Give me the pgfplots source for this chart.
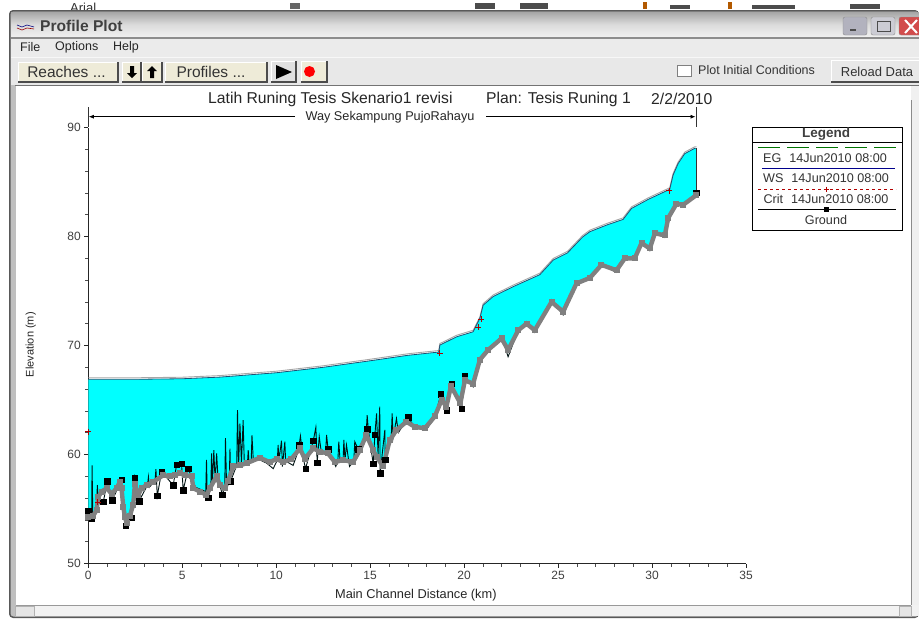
\documentclass[border=0pt]{standalone}
\usepackage{pgfplots}
\usepackage{pgfplotstable}
\pgfplotsset{compat=1.18}
\usetikzlibrary{arrows.meta}
\usepackage{fontspec}
\setmainfont{Liberation Sans}
\definecolor{watercyan}{RGB}{0,255,255}
\definecolor{wsline}{RGB}{30,80,115}
\definecolor{btnbeige}{RGB}{238,235,216}

% water surface
\pgfplotstableread{
x z
0 66.9
2.5 66.9
5 66.95
7 67.1
10 67.5
12.5 68
15 68.6
17 69.1
18.65 69.4
18.71 70.04
19.6 70.8
20.48 71.26
20.84 72.5
21.01 73.7
21.55 74.5
22.61 75.4
24.03 76.5
24.74 77.84
25.5 78.5
26.3 79.95
26.69 80.44
27.58 81.05
28.46 81.57
28.91 82.58
29.79 83.4
30.94 84.33
31.12 85.64
31.39 86.7
31.74 87.6
32.27 88.09
32.36 88.1
}\wsdata

% thick grey line along the ground
\pgfplotstableread{
x z
0 54.3
0.27 54.4
0.44 54.9
0.53 56.1
0.71 56.6
0.98 56.9
1.24 56.4
1.51 56.9
1.68 57.5
1.77 56.9
1.86 55.2
1.95 54.3
2.04 53.7
2.22 54.4
2.39 55.4
2.48 57.3
2.66 56.3
2.84 56.9
3.1 57.2
3.46 57.5
3.99 58.1
4.34 58
4.61 58.1
4.88 58.3
5.14 58.1
5.5 58
5.59 56.9
5.94 56.6
6.29 56.3
6.47 56.9
6.83 58
7 57.2
7.27 56.9
7.45 57.6
7.71 58.9
8.07 59
8.42 59.2
9.13 59.7
9.66 59.3
10.02 59.6
10.37 59.3
10.81 59.6
11.26 60.56
11.52 59.6
11.97 60.56
12.32 60.26
12.76 60.1
13.12 59.3
13.56 59.5
14.09 59.3
14.45 60.4
14.8 61.8
15.16 60.4
15.34 59.8
15.69 58.9
16.04 61.3
16.4 62.25
16.93 63
17.37 62.55
17.91 62.4
18.44 63.5
18.8 65
19.06 64.4
19.3 66.3
19.8 64.7
20.04 66.8
20.48 66.5
20.84 68.7
21.28 69.6
21.99 70.65
22.34 69.6
22.88 71.4
23.32 72
23.76 71.4
24.65 74
25.27 73.1
25.98 75.7
26.69 76.2
27.31 77.4
28.11 76.9
28.55 78
29.08 78
29.44 79.4
29.88 78.9
30.15 80.3
30.68 80.1
30.86 81.7
31.3 83
31.65 82.9
32.36 83.8
}\graydata

% cyan area: water surface out, grey line back
\pgfplotstablesort[sort key=x,sort cmp=float >]{\grayrev}{\graydata}
\pgfplotstablevertcat{\areadata}{\wsdata}
\pgfplotstablevertcat{\areadata}{\grayrev}

% ground line with its spikes
\pgfplotstableread{
x z
0 54.83
0.1 54.2
0.18 54.13
0.2 59.0
0.24 54.5
0.44 54.9
0.48 57.2
0.55 55.5
0.8 55.66
1.01 57.55
1.28 55.8
1.77 57.7
1.99 53.46
2.3 54.19
2.48 57.89
2.7 55.72
3.15 57.2
3.2 57.95
3.25 57
3.55 57.6
3.6 58.65
3.67 56.2
3.9 58.41
4.52 57.19
4.7 59.08
4.96 59.17
5.05 56.73
5.32 58.72
5.7 57.0
6.25 56.6
6.29 59.5
6.33 56.3
6.38 56.05
6.52 57
6.56 60.1
6.6 57.2
6.68 60.4
6.75 57.5
6.83 60.1
6.9 57.9
7.13 56.33
7.26 57
7.3 61.5
7.35 57.8
7.5 57.6
7.54 60.55
7.57 57.55
7.9 59
7.94 64.07
8.0 59
8.07 62.84
8.15 59.2
8.24 63.15
8.3 59.3
8.47 59.2
8.51 60.4
8.55 59.3
8.67 59.4
8.71 61.77
8.78 59.5
9.13 59.5
9.5 59.2
9.84 58.7
10.06 59.5
10.1 60.87
10.15 59.5
10.28 61.27
10.33 58.9
10.46 61.18
10.5 59.4
10.9 59.0
11.17 60.3
11.22 60.87
11.29 61.7
11.4 60
11.56 58.7
11.97 61.24
12.11 62.5
12.18 59.25
12.29 61.63
12.4 60.2
12.63 60.2
12.68 61.79
12.76 60.5
13.17 58.9
13.28 59.4
13.33 61.18
13.4 59.4
13.56 59.5
13.6 61.33
13.66 59.5
13.74 60.87
13.9 58.9
14.13 59.4
14.18 61.18
14.36 60.5
14.78 61.7
14.84 63.62
14.9 62.31
15.16 59.16
15.25 61.79
15.34 63.77
15.42 60
15.51 64.39
15.53 58.27
15.78 62.25
15.8 59.5
16.12 61.5
16.17 63.77
16.22 61.5
16.4 63.3
16.5 62
17.02 63.41
17.4 62.4
18 62.3
18.44 63.4
18.76 65.55
19.06 64.08
19.33 66.47
19.86 64.23
20.03 67.2
20.48 66.2
20.84 68.7
21.28 69.6
21.99 70.85
22.34 68.97
22.88 71.4
23.32 72.2
23.76 71.2
24.65 74.2
25.27 72.8
25.98 75.7
26.69 76.2
27.31 77.4
28.11 76.7
28.55 78
29.08 77.9
29.44 79.4
29.88 78.7
30.15 80.3
30.68 79.9
30.86 81.7
31.3 83
31.65 82.7
32.36 84
}\gnddata

% ground stations that show as black squares
\pgfplotstableread{
x z
0 54.83
0.18 54.13
0.8 55.66
1.01 57.55
1.28 55.8
1.77 57.7
1.99 53.46
2.3 54.19
2.48 57.89
2.7 55.72
3.67 56.2
3.9 58.41
4.52 57.19
4.7 59.08
4.96 59.17
5.05 56.73
5.32 58.72
6.38 56.05
7.13 56.33
7.57 57.55
11.22 60.87
11.56 58.7
11.97 61.24
12.18 59.25
12.76 60.5
14.36 60.5
14.84 62.31
15.16 59.16
15.25 61.79
15.53 58.27
15.8 59.5
17.02 63.41
18.76 65.55
19.06 64.08
19.33 66.47
19.86 64.23
20.03 67.2
32.36 84
}\gndpts

% critical depth marks
\pgfplotstableread{
x z
0 62.1
0.5 55.6
18.71 69.3
20.76 71.7
20.9 72.4
30.9 84.2
}\critdata

\newcommand{\btn}[5]{% x0 y0 x1 y1 fill
  \fill[#5] (#1,#2) rectangle (#3,#4);
  \draw[white,line width=0.8pt] (#1,#4) -- (#1,#2) -- (#3,#2);
  \draw[black!70,line width=1.2pt] (#1,#4) -- (#3,#4) -- (#3,#2);}

\begin{document}
\begin{tikzpicture}[font=\fontsize{11}{13}\selectfont]
\begin{scope}[x=1pt,y=-1pt]
\path[use as bounding box] (0,0) rectangle (919,619);
\fill[white] (0,0) rectangle (919,619);

% scraps of the application behind the window
\begin{scope}
\clip (0,0) rectangle (919,10);
\node[anchor=base west,text=black!80,inner sep=0pt,font=\fontsize{13}{15}\selectfont] at (70,12) {Arial};
\fill[black!60] (290,3) rectangle (300,9);
\fill[black!70] (475,3) rectangle (495,9);
\fill[black!70] (520,3) rectangle (548,9);
\fill[orange!70!black] (643,2) rectangle (647,9);
\fill[black!70] (670,5) rectangle (690,9);
\fill[orange!70!black] (728,2) rectangle (732,9);
\fill[black!70] (752,5) rectangle (795,9);
\fill[black!70] (850,4) rectangle (880,9);
\end{scope}

% window frame and bars
\fill[rounded corners=4pt,fill=black!65] (9,10) rectangle (919,618);
\fill[rounded corners=3pt,fill=black!25] (10.5,11.5) rectangle (919,616.5);
\shade[top color=black!35,bottom color=black!6,middle color=black!14] (11,12) rectangle (919,37);
\fill[black!45] (11,37) rectangle (919,38.5);
\fill[blue!3!black!8] (11,38.5) rectangle (919,57);
\fill[black!9] (11,57) rectangle (919,85);
\fill[black!3] (11,57) rectangle (919,58);
\fill[black!55] (15,85) rectangle (919,86);
\fill[white] (16,86) rectangle (919,605);
\fill[black!5] (16,605) rectangle (919,616);
\fill[black!6] (911,86) rectangle (919,605);
\draw[black!45] (911,100) -- (911,605);

% title bar
\draw[blue!50!black,line width=0.6pt] (17,25) -- (22,27) -- (27,25) -- (34,27);
\draw[red!60!black,line width=0.6pt] (17,28) -- (22,30) -- (27,28) -- (34,29);
\node[anchor=west,inner sep=0pt,text=black!75,font=\fontsize{15.6}{17}\selectfont\bfseries] at (40,26) {Profile Plot};
\fill[rounded corners=2pt,blue!15!black!30,draw=black!45] (843,17) rectangle (867,35);
\fill[black!70] (850,29) rectangle (856,31);
\fill[rounded corners=2pt,blue!15!black!20,draw=black!45] (871,17) rectangle (895,35);
\draw[black!70] (877,21) rectangle (890,31);
\fill[rounded corners=2pt,red!75!black!70,draw=black!45] (899,17) rectangle (925,35);
\draw[white,line width=2pt] (905,20) -- (917,33) (917,20) -- (905,33);

% menu
\node[anchor=west,inner sep=0pt,text=black!85,font=\fontsize{12.5}{14}\selectfont] at (20,47) {File};
\node[anchor=west,inner sep=0pt,text=black!85,font=\fontsize{12.5}{14}\selectfont] at (55,47) {Options};
\node[anchor=west,inner sep=0pt,text=black!85,font=\fontsize{12.5}{14}\selectfont] at (113,47) {Help};

% toolbar
\btn{18}{62}{118}{82}{btnbeige}
\btn{122}{62}{141}{82}{btnbeige}
\btn{142}{62}{162}{82}{btnbeige}
\btn{165}{62}{267}{82}{btnbeige}
\btn{271}{61}{296}{82}{black!12}
\btn{301}{61}{327}{82}{btnbeige}
\node[text=black!80,font=\fontsize{15.5}{17}\selectfont] at (66.5,71.5) {Reaches ...};
\node[text=black!80,font=\fontsize{15.5}{17}\selectfont] at (211,71.5) {Profiles ...};
\fill[black] (130,66) rectangle (134,73) (127,73) -- (137,73) -- (132,78) -- cycle;
\fill[black] (150,71) rectangle (154,78) (147,71) -- (157,71) -- (152,66) -- cycle;
\fill[black] (276,65) -- (292,72) -- (276,79) -- cycle;
\fill[red] (309.5,71.5) circle (5.5);
\fill[white,draw=black!50] (677,65) rectangle (691,76);
\node[anchor=west,inner sep=0pt,text=black!80,font=\fontsize{12.5}{14}\selectfont] at (698,70) {Plot Initial Conditions};
\btn{831}{60}{925}{82}{black!9}
\node[text=black!80,font=\fontsize{13}{15}\selectfont] at (877,71.5) {Reload Data};

% plot heading and reach marker
\node[anchor=west,inner sep=0pt,text=black!85,font=\fontsize{15.7}{17}\selectfont] at (208,99) {Latih Runing Tesis Skenario1 revisi};
\node[anchor=west,inner sep=0pt,text=black!85,font=\fontsize{15.7}{17}\selectfont] at (486,99) {Plan: Tesis Runing 1};
\node[anchor=west,inner sep=0pt,text=black!85,font=\fontsize{15.7}{17}\selectfont] at (651,99) {2/2/2010};
\draw[black!80,line width=0.8pt] (88.3,107) -- (88.3,127);
\draw[black!80,line width=0.8pt] (696,107) -- (696,127);
\draw[black,line width=0.7pt,-{Latex[length=5pt,width=4pt]}] (295,116.7) -- (88.8,116.7);
\draw[black,line width=0.7pt,-{Latex[length=5pt,width=4pt]}] (486,116.7) -- (695.5,116.7);
\node[text=black!85,font=\fontsize{12.7}{14}\selectfont] at (390,117.5) {Way Sekampung PujoRahayu};
\end{scope}

\begin{axis}[
  at={(88.3pt,-563.5pt)},anchor=south west,
  scale only axis,width=657.7pt,height=436pt,
  xmin=0,xmax=35,ymin=50,ymax=90,
  axis lines=left,
  axis line style={-,black!85,line width=0.8pt},
  xtick={0,5,...,35},ytick={50,60,...,90},
  minor x tick num=4,minor y tick num=4,
  tick align=outside,
  major tick length=4pt,minor tick length=3pt,
  tick style={black!85,line width=0.6pt},
  minor tick style={black!70,line width=0.5pt},
  /pgf/number format/assume math mode=true,
  ticklabel style={font=\fontsize{12}{14}\selectfont,text=black!75},
  xlabel={Main Channel Distance (km)},
  ylabel={Elevation (m)},
  label style={text=black!85},
  xlabel style={font=\fontsize{12.8}{14}\selectfont,at={(axis description cs:0.498,0)},anchor=center,yshift=-31.5pt},
  ylabel style={font=\fontsize{11}{13}\selectfont,at={(axis description cs:-0.0875,0.502)},anchor=center},
  clip=false,
]
\addplot[fill=watercyan,draw=none,forget plot] table[x=x,y=z] {\areadata};
% energy grade, slightly above the water surface
\addplot[color=black!35,line width=0.9pt,forget plot] table[x=x,y expr=\thisrow{z}+0.14] {\wsdata};
\addplot[color=wsline,line width=0.8pt,forget plot] table[x=x,y=z] {\wsdata};
\addplot[color=black!80,line width=0.8pt,forget plot] coordinates {(32.36,88.1) (32.36,84)};
% ground
\addplot[color=black!85!teal,line width=0.9pt,forget plot] table[x=x,y=z] {\gnddata};
\addplot[only marks,mark=square*,mark size=2.7pt,mark options={black},forget plot] table[x=x,y=z] {\gndpts};
\addplot[color=black!50,line width=4.4pt,line join=round,mark=square*,mark size=2.5pt,mark options={black!50,line width=0pt},forget plot] table[x=x,y=z] {\graydata};
% critical depth
\addplot[only marks,mark=+,mark size=3pt,mark options={red!70!black,line width=0.8pt},forget plot] table[x=x,y=z] {\critdata};
\end{axis}

\begin{scope}[x=1pt,y=-1pt]
% legend box
\fill[white,draw=black,line width=1pt] (752,127) rectangle (902,230);
\draw[black,line width=0.8pt] (752,142.7) -- (902,142.7);
\node[font=\fontsize{13.5}{15}\selectfont\bfseries,text=black!75] at (826,134.5) {Legend};
\draw[green!45!black,line width=0.8pt,dash pattern=on 22pt off 7pt] (758,147) -- (896,147);
\node[text=black!80,font=\fontsize{12.6}{14}\selectfont] at (825,158) {EG\hspace{8pt}14Jun2010 08:00};
\draw[blue!55!black,line width=0.8pt] (762,168.3) -- (895,168.3);
\node[text=black!80,font=\fontsize{12.6}{14}\selectfont] at (826,178) {WS\hspace{8pt}14Jun2010 08:00};
\draw[red!70!black,line width=0.7pt,dash pattern=on 3pt off 3pt] (758,189) -- (896,189);
\draw[red!70!black,line width=0.8pt] (826,186.5) -- (826,191.5) (823.5,189) -- (828.5,189);
\node[text=black!80,font=\fontsize{12.6}{14}\selectfont] at (826,199) {Crit\hspace{8pt}14Jun2010 08:00};
\draw[black,line width=0.8pt] (758,209) -- (896,209);
\fill[black] (824,206.5) rectangle (829,211.5);
\node[text=black!80,font=\fontsize{12.6}{14}\selectfont] at (826,220) {Ground};

% bottom scrollbar
\draw[black!40] (16,605) -- (911,605);
\fill[black!10,draw=black!30] (15,606) rectangle (34,616);
\fill[black!10,draw=black!30] (899,606) rectangle (911,616);
\end{scope}
\end{tikzpicture}
\end{document}
